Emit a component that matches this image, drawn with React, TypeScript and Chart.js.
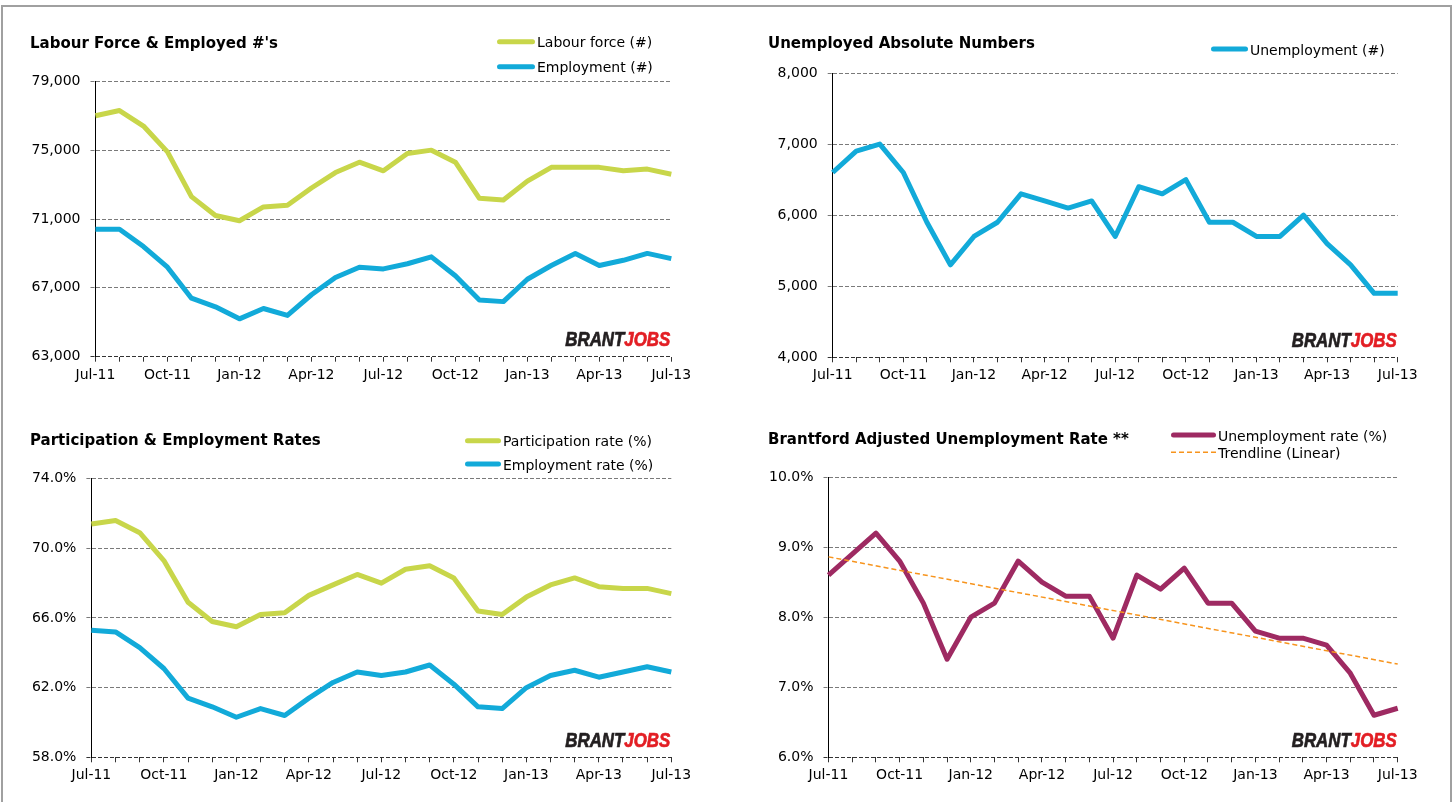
import React, { useEffect, useRef } from 'react';
import { Chart, registerables } from 'chart.js';

Chart.register(...registerables);

// ---------- DATA ----------
const months = ['Jul-11', 'Aug-11', 'Sep-11', 'Oct-11', 'Nov-11', 'Dec-11', 'Jan-12', 'Feb-12', 'Mar-12', 'Apr-12', 'May-12', 'Jun-12', 'Jul-12', 'Aug-12', 'Sep-12', 'Oct-12', 'Nov-12', 'Dec-12', 'Jan-13', 'Feb-13', 'Mar-13', 'Apr-13', 'May-13', 'Jun-13', 'Jul-13'];

const labourForce = [77000, 77300, 76400, 74900, 72300, 71200, 70900, 71700, 71800, 72800, 73700, 74300, 73800, 74800, 75000, 74300, 72200, 72100, 73200, 74000, 74000, 74000, 73800, 73900, 73600];
const employment = [70400, 70400, 69400, 68200, 66400, 65900, 65200, 65800, 65400, 66600, 67600, 68200, 68100, 68400, 68800, 67700, 66300, 66200, 67500, 68300, 69000, 68300, 68600, 69000, 68700];
const unemployment = [6600, 6900, 7000, 6600, 5900, 5300, 5700, 5900, 6300, 6200, 6100, 6200, 5700, 6400, 6300, 6500, 5900, 5900, 5700, 5700, 6000, 5600, 5300, 4900, 4900];
const participationRate = [71.4, 71.6, 70.9, 69.3, 66.9, 65.8, 65.5, 66.2, 66.3, 67.3, 67.9, 68.5, 68.0, 68.8, 69.0, 68.3, 66.4, 66.2, 67.2, 67.9, 68.3, 67.8, 67.7, 67.7, 67.4];
const employmentRate = [65.3, 65.2, 64.3, 63.1, 61.4, 60.9, 60.3, 60.8, 60.4, 61.4, 62.3, 62.9, 62.7, 62.9, 63.3, 62.2, 60.9, 60.8, 62.0, 62.7, 63.0, 62.6, 62.9, 63.2, 62.9];
const unemploymentRate = [8.6, 8.9, 9.2, 8.8, 8.2, 7.4, 8.0, 8.2, 8.8, 8.5, 8.3, 8.3, 7.7, 8.6, 8.4, 8.7, 8.2, 8.2, 7.8, 7.7, 7.7, 7.6, 7.2, 6.6, 6.7];
// Trendline end points (first and last month)
const trendStart = 8.86;
const trendEnd = 7.33;

const titles = ["Labour Force & Employed #'s", 'Unemployed Absolute Numbers', 'Participation & Employment Rates', 'Brantford Adjusted Unemployment Rate **'];

// ---------- STYLE ----------
const FONT = '"DejaVu Sans", "Liberation Sans", Arial, sans-serif';
const LIME = '#c8d64a';
const BLUE = '#12aad9';
const MAROON = '#9e2a62';
const ORANGE = '#f7941d';

const lineStyle = {
  borderWidth: 5,
  pointRadius: 0,
  pointHoverRadius: 0,
  fill: false,
  tension: 0,
  borderJoinStyle: 'round',
  borderCapStyle: 'butt',
};

const decorPlugin = {
  id: 'decor',
  afterDraw(chart: any, _args: any, opts: any) {
    const { ctx, chartArea } = chart;
    const ox = opts.ox;
    const oy = opts.oy;
    ctx.save();
    const lg = opts.legend;
    chart.data.datasets.forEach((ds: any, i: number) => {
      const y = lg.rows[i] - oy;
      const x1 = lg.x1 - ox;
      const x2 = lg.x2 - ox;
      const dashed = ds.borderDash && ds.borderDash.length;
      ctx.beginPath();
      ctx.strokeStyle = ds.borderColor;
      ctx.lineWidth = dashed ? ds.borderWidth : 5;
      ctx.lineCap = dashed ? 'butt' : 'round';
      ctx.setLineDash(dashed ? ds.borderDash : []);
      ctx.moveTo(x1 + (dashed ? 0 : 2.5), y);
      ctx.lineTo(x2 - (dashed ? 0 : 2.5), y);
      ctx.stroke();
      ctx.setLineDash([]);
      ctx.fillStyle = '#000';
      ctx.font = `14px ${FONT}`;
      ctx.textAlign = 'left';
      ctx.textBaseline = 'alphabetic';
      ctx.fillText(ds.label, x2 + 2, y + 5.5);
    });
    // logo
    ctx.font = 'italic bold 20px "Liberation Sans", Arial, sans-serif';
    ctx.textAlign = 'left';
    ctx.textBaseline = 'alphabetic';
    const w1 = ctx.measureText('BRANT').width;
    const w2 = ctx.measureText('JOBS').width;
    const sc = 105 / (w1 + w2);
    ctx.translate(chartArea.right - 1, chartArea.bottom - 10.5);
    ctx.scale(sc, 1);
    ctx.lineWidth = 0.7;
    ctx.fillStyle = '#231f20';
    ctx.strokeStyle = '#231f20';
    ctx.fillText('BRANT', -(w1 + w2), 0);
    ctx.strokeText('BRANT', -(w1 + w2), 0);
    ctx.fillStyle = '#e31e24';
    ctx.strokeStyle = '#e31e24';
    ctx.fillText('JOBS', -w2, 0);
    ctx.strokeText('JOBS', -w2, 0);
    ctx.restore();
  },
};

type Spec = {
  left: number; top: number; width: number; height: number;
  titleX: number; titleY: number;
  area: { l: number; t: number; r: number; b: number };
  legend: { x1: number; x2: number; rows: number[] };
  title: string;
  yMin: number; yMax: number; yStep: number; percent: boolean;
  datasets: any[];
};

function Panel({ spec }: { spec: Spec }) {
  const ref = useRef<HTMLCanvasElement>(null);
  useEffect(() => {
    const s = spec;
    const padLeft = s.titleX - s.left;
    const padRight = s.left + s.width - s.area.r;
    const titleLH = 18;
    const titlePadTop = s.titleY - s.top - titleLH / 2;
    const titlePadBottom = s.area.t - s.top - titlePadTop - titleLH;
    const yWidth = s.area.l - s.titleX;
    const xHeight = s.top + s.height - s.area.b;
    const gridCol = (c: any) => (c.index === 0 ? '#333333' : '#7a7a7a');
    const chart = new Chart(ref.current as HTMLCanvasElement, {
      type: 'line',
      data: { labels: months, datasets: s.datasets },
      options: {
        animation: false,
        responsive: false,
        events: [],
        layout: { padding: { left: padLeft, right: padRight, top: 0, bottom: 0 } },
        plugins: {
          legend: { display: false },
          tooltip: { enabled: false },
          title: {
            display: true,
            text: s.title,
            align: 'start',
            color: '#000',
            font: { family: FONT, size: 15, weight: 'bold', lineHeight: 1.2 },
            padding: { top: titlePadTop, bottom: titlePadBottom },
          },
          decor: { ox: s.left, oy: s.top, legend: s.legend },
        } as any,
        scales: {
          x: {
            type: 'category',
            offset: false,
            grid: { drawOnChartArea: false, drawTicks: true, tickLength: 5, tickColor: '#333333', lineWidth: 1 },
            border: { display: false },
            ticks: {
              autoSkip: false,
              maxRotation: 0,
              minRotation: 0,
              padding: 5,
              color: '#000',
              font: { family: FONT, size: 14 },
              callback: (_v: any, i: number) => (i % 3 === 0 ? months[i] : ''),
            },
            afterFit: (sc: any) => { sc.height = xHeight; },
          },
          y: {
            min: s.yMin,
            max: s.yMax,
            ticks: {
              stepSize: s.yStep,
              padding: 10,
              color: '#000',
              font: { family: FONT, size: 14 },
              callback: (v: any) => (s.percent ? Number(v).toFixed(1) + '%' : Number(v).toLocaleString('en-US')),
            },
            grid: { color: gridCol, tickColor: gridCol, tickLength: 5, tickBorderDash: [4, 2], lineWidth: 1 },
            border: { display: true, color: '#000', width: 1, dash: [4, 2] },
            afterFit: (sc: any) => { sc.width = yWidth; },
          },
        },
      } as any,
      plugins: [decorPlugin],
    });
    return () => chart.destroy();
  }, []);
  return (
    <canvas
      ref={ref}
      width={spec.width}
      height={spec.height}
      style={{ position: 'absolute', left: spec.left, top: spec.top }}
    />
  );
}

const trendline = months.map((_, i) => (i === 0 ? trendStart : i === months.length - 1 ? trendEnd : null));

const specs: Spec[] = [
  {
    left: 20, top: 20, width: 700, height: 380, titleX: 30, titleY: 43.8,
    area: { l: 95.5, t: 81.3, r: 671.3, b: 356.7 },
    legend: { x1: 497, x2: 535, rows: [41.7, 66.7] },
    title: titles[0], yMin: 63000, yMax: 79000, yStep: 4000, percent: false,
    datasets: [
      { ...lineStyle, label: 'Labour force (#)', data: labourForce, borderColor: LIME },
      { ...lineStyle, label: 'Employment (#)', data: employment, borderColor: BLUE },
    ],
  },
  {
    left: 740, top: 20, width: 700, height: 380, titleX: 768, titleY: 43.8,
    area: { l: 832.7, t: 73, r: 1397.7, b: 357.3 },
    legend: { x1: 1211, x2: 1248, rows: [49] },
    title: titles[1], yMin: 4000, yMax: 8000, yStep: 1000, percent: false,
    datasets: [
      { ...lineStyle, label: 'Unemployment (#)', data: unemployment, borderColor: BLUE },
    ],
  },
  {
    left: 20, top: 410, width: 700, height: 390, titleX: 30, titleY: 441,
    area: { l: 91.4, t: 478.7, r: 671.3, b: 757.3 },
    legend: { x1: 465, x2: 501, rows: [440.7, 464] },
    title: titles[2], yMin: 58, yMax: 74, yStep: 4, percent: true,
    datasets: [
      { ...lineStyle, label: 'Participation rate (%)', data: participationRate, borderColor: LIME },
      { ...lineStyle, label: 'Employment rate (%)', data: employmentRate, borderColor: BLUE },
    ],
  },
  {
    left: 740, top: 410, width: 700, height: 390, titleX: 768, titleY: 440,
    area: { l: 828.5, t: 477, r: 1397.7, b: 757.3 },
    legend: { x1: 1171, x2: 1216, rows: [435, 452.3] },
    title: titles[3], yMin: 6, yMax: 10, yStep: 1, percent: true,
    datasets: [
      { ...lineStyle, label: 'Unemployment rate (%)', data: unemploymentRate, borderColor: MAROON, order: 1 },
      { label: 'Trendline (Linear)', data: trendline, borderColor: ORANGE, borderWidth: 1.5, borderDash: [5, 3], pointRadius: 0, spanGaps: true, fill: false, tension: 0, order: 0 },
    ],
  },
];

export default function App() {
  return (
    <div style={{ position: 'fixed', left: 0, top: 0, width: 1453, height: 802, overflow: 'hidden', background: '#fff' }}>
      <div style={{ position: 'absolute', left: 1, top: 5, width: 1451, height: 830, border: '2px solid #a0a0a0', boxSizing: 'border-box' }} />
      {specs.map((s, i) => (
        <Panel key={i} spec={s} />
      ))}
    </div>
  );
}
